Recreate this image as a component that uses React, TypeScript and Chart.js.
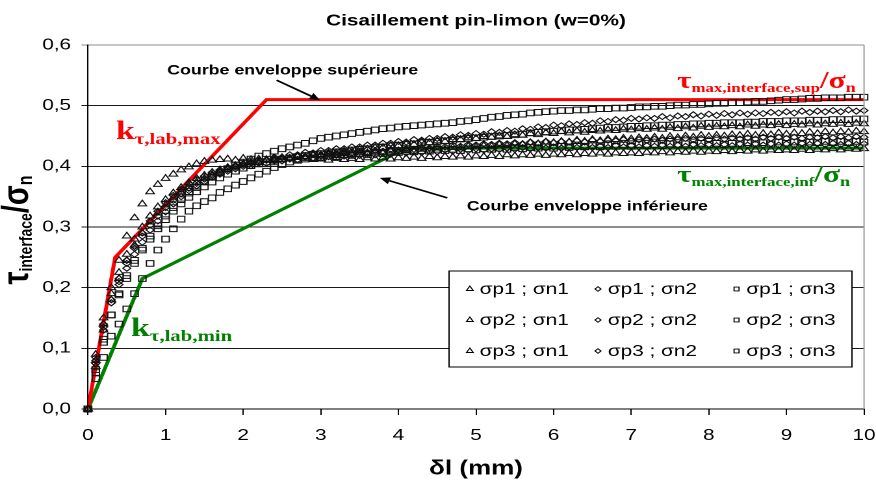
import React, { useEffect, useRef } from "react";
import { Chart, registerables } from "chart.js";

Chart.register(...registerables);

// ---------------- DATA ----------------
const TITLE = "Cisaillement pin-limon (w=0%)";
const X_TITLE = "δl (mm)";
const X_TICKS = [0, 1, 2, 3, 4, 5, 6, 7, 8, 9, 10];
const Y_TICKS = [0, 0.1, 0.2, 0.3, 0.4, 0.5, 0.6];

const DL = [
  0, 0.1, 0.2, 0.3, 0.4, 0.5, 0.6, 0.7, 0.8, 0.9,
  1, 1.1, 1.2, 1.3, 1.4, 1.5, 1.6, 1.7, 1.8, 1.9,
  2, 2.1, 2.2, 2.3, 2.4, 2.5, 2.6, 2.7, 2.8, 2.9,
  3, 3.1, 3.2, 3.3, 3.4, 3.5, 3.6, 3.7, 3.8, 3.9,
  4, 4.1, 4.2, 4.3, 4.4, 4.5, 4.6, 4.7, 4.8, 4.9,
  5, 5.1, 5.2, 5.3, 5.4, 5.5, 5.6, 5.7, 5.8, 5.9,
  6, 6.1, 6.2, 6.3, 6.4, 6.5, 6.6, 6.7, 6.8, 6.9,
  7, 7.1, 7.2, 7.3, 7.4, 7.5, 7.6, 7.7, 7.8, 7.9,
  8, 8.1, 8.2, 8.3, 8.4, 8.5, 8.6, 8.7, 8.8, 8.9,
  9, 9.1, 9.2, 9.3, 9.4, 9.5, 9.6, 9.7, 9.8, 9.9,
  10,
];

const Y_P1N1 = [
  0, .090, .150, .200, .245, .285, .315, .338, .358, .370,
  .380, .387, .394, .399, .404, .408, .410, .411, .412, .410,
  .413, .411, .412, .410, .413, .411, .412, .410, .413, .411,
  .412, .410, .413, .411, .413, .411, .414, .412, .414, .412,
  .414, .413, .415, .413, .416, .414, .416, .415, .417, .415,
  .417, .416, .418, .416, .419, .417, .419, .418, .420, .418,
  .420, .419, .421, .419, .421, .420, .422, .420, .422, .421,
  .422, .421, .423, .422, .424, .422, .424, .423, .425, .423,
  .425, .424, .426, .424, .426, .425, .427, .425, .427, .426,
  .427, .426, .428, .426, .428, .427, .429, .427, .429, .428,
  .429,
];
const Y_P1N2 = [
  0, .075, .130, .175, .210, .240, .265, .285, .303, .318,
  .332, .344, .355, .364, .372, .379, .385, .390, .395, .399,
  .403, .405, .410, .410, .415, .415, .419, .419, .423, .422,
  .426, .426, .429, .429, .432, .432, .435, .435, .438, .438,
  .441, .440, .444, .443, .446, .446, .449, .448, .452, .451,
  .454, .453, .457, .456, .459, .458, .462, .461, .465, .464,
  .468, .467, .470, .469, .472, .471, .475, .474, .477, .476,
  .479, .478, .480, .479, .482, .480, .483, .482, .485, .483,
  .486, .484, .487, .485, .488, .486, .488, .487, .489, .488,
  .490, .488, .491, .489, .491, .490, .492, .490, .493, .491,
  .492,
];
const Y_P1N3 = [
  0, .060, .110, .155, .190, .220, .245, .265, .285, .302,
  .318, .332, .345, .356, .365, .374, .382, .389, .396, .402,
  .407, .412, .417, .421, .425, .429, .432, .435, .438, .442,
  .446, .448, .450, .452, .454, .456, .458, .460, .462, .463,
  .465, .466, .467, .468, .469, .470, .471, .472, .474, .475,
  .477, .479, .481, .482, .484, .485, .486, .488, .489, .490,
  .491, .492, .492, .493, .493, .494, .495, .495, .496, .496,
  .497, .498, .498, .499, .499, .500, .501, .501, .502, .502,
  .503, .504, .504, .505, .505, .506, .507, .507, .508, .509,
  .510, .510, .511, .512, .512, .513, .513, .513, .514, .514,
  .514,
];
const Y_P2N1 = [
  0, .080, .140, .190, .225, .255, .280, .300, .318, .333,
  .345, .356, .365, .373, .380, .385, .390, .394, .398, .401,
  .404, .407, .407, .411, .411, .414, .413, .416, .415, .418,
  .417, .419, .418, .421, .419, .422, .421, .423, .422, .425,
  .424, .426, .425, .428, .427, .430, .428, .431, .430, .433,
  .432, .434, .433, .436, .434, .437, .436, .439, .437, .440,
  .439, .441, .440, .443, .441, .444, .442, .445, .444, .446,
  .445, .447, .446, .448, .446, .449, .447, .450, .448, .451,
  .449, .451, .450, .452, .451, .453, .451, .454, .452, .455,
  .453, .455, .454, .456, .454, .457, .455, .457, .456, .458,
  .457,
];
const Y_P2N2 = [
  0, .085, .140, .180, .215, .245, .268, .290, .310, .326,
  .340, .352, .362, .371, .378, .384, .390, .394, .398, .401,
  .404, .407, .407, .411, .411, .414, .413, .417, .416, .419,
  .418, .421, .420, .423, .422, .425, .423, .426, .425, .428,
  .427, .429, .428, .431, .430, .433, .432, .435, .433, .436,
  .435, .437, .436, .438, .437, .439, .437, .440, .438, .441,
  .439, .441, .440, .442, .440, .443, .441, .443, .442, .444,
  .442, .444, .443, .445, .443, .445, .444, .446, .444, .446,
  .444, .447, .445, .447, .445, .447, .445, .448, .446, .448,
  .446, .448, .446, .448, .447, .449, .447, .449, .447, .449,
  .448,
];
const Y_P2N3 = [
  0, .065, .115, .155, .188, .215, .240, .262, .280, .297,
  .312, .326, .338, .349, .358, .366, .374, .381, .387, .392,
  .397, .401, .404, .407, .410, .412, .414, .416, .418, .420,
  .421, .422, .424, .425, .427, .428, .429, .431, .432, .434,
  .435, .436, .437, .439, .440, .441, .442, .443, .445, .446,
  .447, .448, .449, .450, .451, .452, .453, .455, .456, .457,
  .458, .459, .460, .460, .461, .462, .463, .464, .464, .465,
  .466, .466, .467, .467, .468, .468, .469, .469, .470, .470,
  .471, .471, .472, .472, .472, .473, .473, .474, .474, .474,
  .475, .475, .475, .476, .476, .476, .477, .477, .477, .478,
  .478,
];
const Y_P3N1 = [
  0, .070, .130, .180, .215, .245, .270, .290, .308, .323,
  .336, .348, .358, .367, .374, .380, .386, .391, .395, .399,
  .402, .406, .406, .410, .410, .414, .413, .417, .416, .420,
  .419, .422, .422, .425, .425, .428, .428, .431, .431, .434,
  .434, .437, .436, .440, .439, .442, .441, .444, .444, .447,
  .446, .449, .448, .450, .449, .452, .451, .454, .452, .455,
  .454, .457, .455, .458, .456, .459, .458, .460, .459, .461,
  .460, .462, .461, .463, .461, .464, .462, .465, .463, .466,
  .464, .466, .465, .467, .465, .468, .466, .468, .467, .469,
  .467, .469, .468, .470, .468, .470, .469, .471, .469, .471,
  .470,
];
const Y_P3N2 = [
  0, .080, .135, .175, .205, .232, .255, .275, .295, .310,
  .325, .338, .350, .360, .368, .375, .382, .387, .392, .396,
  .400, .401, .405, .405, .409, .409, .412, .411, .415, .414,
  .417, .416, .418, .417, .419, .418, .421, .419, .422, .420,
  .423, .422, .424, .423, .425, .424, .427, .425, .428, .426,
  .429, .427, .429, .428, .430, .428, .431, .429, .431, .430,
  .432, .430, .432, .431, .433, .431, .433, .431, .434, .432,
  .434, .432, .434, .433, .435, .433, .435, .433, .436, .434,
  .436, .434, .436, .434, .437, .435, .437, .435, .437, .435,
  .437, .435, .438, .436, .438, .436, .438, .436, .438, .436,
  .437,
];
const Y_P3N3 = [
  0, .050, .085, .120, .140, .165, .190, .215, .240, .262,
  .280, .297, .313, .326, .335, .342, .348, .357, .363, .369,
  .375, .381, .387, .392, .398, .403, .407, .410, .412, .414,
  .415, .417, .416, .419, .418, .421, .419, .422, .421, .424,
  .423, .425, .424, .426, .425, .428, .426, .428, .426, .429,
  .427, .429, .428, .430, .428, .431, .429, .431, .430, .432,
  .430, .433, .431, .433, .432, .434, .432, .435, .433, .435,
  .433, .436, .434, .436, .434, .437, .435, .437, .435, .438,
  .436, .438, .436, .438, .437, .439, .437, .439, .437, .440,
  .438, .440, .438, .440, .439, .441, .439, .441, .439, .441,
  .440,
];

const SERIES_LABELS = [
  "σp1 ; σn1", "σp1 ; σn2", "σp1 ; σn3",
  "σp2 ; σn1", "σp2 ; σn2", "σp2 ; σn3",
  "σp3 ; σn1", "σp3 ; σn2", "σp3 ; σn3",
];
const SERIES_VALUES = [Y_P1N1, Y_P1N2, Y_P1N3, Y_P2N1, Y_P2N2, Y_P2N3, Y_P3N1, Y_P3N2, Y_P3N3];
const SERIES_STYLES = ["triangle", "rectRot", "rect", "triangle", "rectRot", "rect", "triangle", "rectRot", "rect"];

// envelope curves
const SUP_X = [0, 0.35, 2.3, 10];
const SUP_Y = [0, 0.25, 0.51, 0.51];
const INF_X = [0, 0.7, 4.1, 10];
const INF_Y = [0, 0.215, 0.43, 0.43];

// ---------------- STYLE ----------------
const SANS = '"Liberation Sans", Arial, Helvetica, sans-serif';
const SERIF = '"Liberation Serif", "Times New Roman", Times, serif';
const RED = "#ff0000";
const GREEN = "#008000";
const LOGICAL_W = 674; // drawn narrower then stretched to 876px like the reference
const H = 480;
const MARKER_R: Record<string, number> = { triangle: 3.8, rectRot: 3.0, rect: 4.0 };
const LEGEND_R: Record<string, number> = { triangle: 3.0, rectRot: 2.3, rect: 2.7 };

type Seg = { t: string; font: string; dy?: number };

function richWidth(ctx: CanvasRenderingContext2D, segs: Seg[]) {
  let w = 0;
  for (const s of segs) {
    ctx.font = s.font;
    w += ctx.measureText(s.t).width;
  }
  return w;
}
function drawRich(ctx: CanvasRenderingContext2D, x: number, y: number, segs: Seg[], color: string) {
  ctx.fillStyle = color;
  ctx.textAlign = "left";
  ctx.textBaseline = "alphabetic";
  let cx = x;
  for (const s of segs) {
    ctx.font = s.font;
    ctx.fillText(s.t, cx, y + (s.dy || 0));
    cx += ctx.measureText(s.t).width;
  }
}
function drawMarker(ctx: CanvasRenderingContext2D, style: string, x: number, y: number, r: number) {
  ctx.beginPath();
  if (style === "triangle") {
    const h = r * Math.sin(Math.PI / 3);
    ctx.moveTo(x, y - r);
    ctx.lineTo(x + h, y + r / 2);
    ctx.lineTo(x - h, y + r / 2);
    ctx.closePath();
  } else if (style === "rectRot") {
    ctx.moveTo(x - r, y);
    ctx.lineTo(x, y - r);
    ctx.lineTo(x + r, y);
    ctx.lineTo(x, y + r);
    ctx.closePath();
  } else {
    const s = r * Math.SQRT1_2;
    ctx.rect(x - s, y - s, 2 * s, 2 * s);
  }
  ctx.stroke();
}
function drawArrow(ctx: CanvasRenderingContext2D, x1: number, y1: number, x2: number, y2: number) {
  const a = Math.atan2(y2 - y1, x2 - x1);
  const L = 8;
  const W = 3.6;
  const bx = x2 - Math.cos(a) * L;
  const by = y2 - Math.sin(a) * L;
  ctx.strokeStyle = "#000";
  ctx.fillStyle = "#000";
  ctx.lineWidth = 1.7;
  ctx.beginPath();
  ctx.moveTo(x1, y1);
  ctx.lineTo(bx, by);
  ctx.stroke();
  ctx.beginPath();
  ctx.moveTo(x2, y2);
  ctx.lineTo(bx - Math.sin(a) * W, by + Math.cos(a) * W);
  ctx.lineTo(bx + Math.sin(a) * W, by - Math.cos(a) * W);
  ctx.closePath();
  ctx.fill();
}

const decorPlugin = {
  id: "decor",
  afterDraw(chart: any) {
    const { ctx, chartArea: ca, scales } = chart;
    const X = (v: number) => scales.x.getPixelForValue(v);
    const Y = (v: number) => scales.y.getPixelForValue(v);
    ctx.save();

    // right border of plot area
    ctx.strokeStyle = "#9a9a9a";
    ctx.lineWidth = 1;
    ctx.beginPath();
    ctx.moveTo(ca.right, ca.top);
    ctx.lineTo(ca.right, ca.bottom);
    ctx.stroke();

    // title
    ctx.fillStyle = "#000";
    ctx.font = `bold 16px ${SANS}`;
    ctx.textAlign = "center";
    ctx.textBaseline = "middle";
    ctx.fillText(TITLE, (ca.left + ca.right) / 2, 21);

    // x axis title
    ctx.font = `bold 20px ${SANS}`;
    ctx.fillText(X_TITLE, (ca.left + ca.right) / 2, 469);

    // y axis title (rotated)
    const ySegs: Seg[] = [
      { t: "τ", font: `bold 29px ${SANS}` },
      { t: "interface", font: `bold 14px ${SANS}`, dy: 3 },
      { t: "/", font: `bold 29px ${SANS}` },
      { t: "σ", font: `bold 29px ${SANS}` },
      { t: "n", font: `bold 16px ${SANS}`, dy: 3 },
    ];
    const yw = richWidth(ctx, ySegs);
    ctx.save();
    ctx.translate(21.5, 230);
    ctx.rotate(-Math.PI / 2);
    drawRich(ctx, -yw / 2, 0, ySegs, "#000");
    ctx.restore();

    // annotations
    ctx.font = `bold 13.7px ${SANS}`;
    ctx.fillStyle = "#000";
    ctx.textAlign = "left";
    ctx.textBaseline = "alphabetic";
    ctx.fillText("Courbe enveloppe supérieure", X(1.02), Y(0.551));
    ctx.fillText("Courbe enveloppe inférieure", X(4.88), Y(0.327));
    drawArrow(ctx, X(2.43), Y(0.542), X(2.99), Y(0.509));
    drawArrow(ctx, X(4.63), Y(0.348), X(3.76), Y(0.381));

    drawRich(ctx, X(0.36), Y(0.445), [
      { t: "k", font: `bold 26px ${SERIF}` },
      { t: "τ,lab,max", font: `bold 16px ${SERIF}`, dy: 5 },
    ], RED);
    drawRich(ctx, X(0.554), Y(0.12), [
      { t: "k", font: `bold 26px ${SERIF}` },
      { t: "τ,lab,min", font: `bold 16px ${SERIF}`, dy: 5 },
    ], GREEN);
    drawRich(ctx, X(7.59), Y(0.529), [
      { t: "τ", font: `bold 24px ${SERIF}` },
      { t: "max,interface,sup", font: `bold 13px ${SERIF}`, dy: 4 },
      { t: "/", font: `bold 24px ${SERIF}` },
      { t: "σ", font: `bold 24px ${SERIF}` },
      { t: "n", font: `bold 14px ${SERIF}`, dy: 4 },
    ], RED);
    drawRich(ctx, X(7.59), Y(0.374), [
      { t: "τ", font: `bold 24px ${SERIF}` },
      { t: "max,interface,inf", font: `bold 13px ${SERIF}`, dy: 4 },
      { t: "/", font: `bold 24px ${SERIF}` },
      { t: "σ", font: `bold 24px ${SERIF}` },
      { t: "n", font: `bold 14px ${SERIF}`, dy: 4 },
    ], GREEN);

    // legend box
    const boxR = ca.right - 9.3;
    const boxL = boxR - 310;
    const boxT = ca.bottom - 138;
    const boxB = ca.bottom - 42;
    ctx.fillStyle = "#fff";
    ctx.fillRect(boxL, boxT, boxR - boxL, boxB - boxT);
    ctx.strokeStyle = "#000";
    ctx.lineWidth = 1;
    ctx.strokeRect(boxL, boxT, boxR - boxL, boxB - boxT);
    const colX = [16, 114.6, 221.2];
    const rowY = [18, 49, 80];
    ctx.font = `16px ${SANS}`;
    ctx.textBaseline = "middle";
    ctx.textAlign = "left";
    SERIES_LABELS.forEach((lab, i) => {
      const r = Math.floor(i / 3);
      const c = i % 3;
      const mx = boxL + colX[c];
      const my = boxT + rowY[r];
      ctx.strokeStyle = "#000";
      ctx.lineWidth = 0.9;
      drawMarker(ctx, SERIES_STYLES[i], mx, my, LEGEND_R[SERIES_STYLES[i]]);
      ctx.fillStyle = "#000";
      ctx.fillText(lab, mx + 7.5, my + 0.5);
    });

    ctx.restore();
  },
};

export default function App() {
  const ref = useRef<HTMLCanvasElement>(null);

  useEffect(() => {
    const canvas = ref.current;
    if (!canvas) return;

    const scatterSets = SERIES_LABELS.map((label, i) => ({
      type: "scatter" as const,
      label,
      data: DL.map((x, j) => ({ x, y: SERIES_VALUES[i][j] })),
      pointStyle: SERIES_STYLES[i],
      pointRadius: MARKER_R[SERIES_STYLES[i]],
      pointBorderColor: "#111",
      pointBackgroundColor: "rgba(0,0,0,0)",
      pointBorderWidth: 1,
      borderColor: "#111",
      backgroundColor: "rgba(0,0,0,0)",
      showLine: false,
      clip: 6,
      order: 1,
    }));
    const lineSets = [
      { x: SUP_X, y: SUP_Y, c: RED, label: "Courbe enveloppe supérieure" },
      { x: INF_X, y: INF_Y, c: GREEN, label: "Courbe enveloppe inférieure" },
    ].map((d) => ({
      type: "line" as const,
      label: d.label,
      data: d.x.map((x, j) => ({ x, y: d.y[j] })),
      borderColor: d.c,
      backgroundColor: d.c,
      borderWidth: 3,
      pointRadius: 0,
      showLine: true,
      fill: false,
      tension: 0,
      order: 10,
    }));

    const chart = new Chart(canvas, {
      type: "scatter",
      data: { datasets: [...scatterSets, ...lineSets] as any },
      options: {
        responsive: false,
        animation: false,
        devicePixelRatio: 2,
        layout: { padding: { top: 45, right: 9.2, left: 0, bottom: 0 } },
        plugins: {
          legend: { display: false },
          tooltip: { enabled: false },
          title: { display: false },
        },
        scales: {
          x: {
            type: "linear",
            min: 0,
            max: 10,
            afterBuildTicks: (s: any) => {
              s.ticks = X_TICKS.map((v) => ({ value: v }));
            },
            afterFit: (s: any) => {
              s.height = 71;
              s.paddingLeft = 0;
              s.paddingRight = 0;
            },
            ticks: {
              color: "#000",
              font: { family: SANS, size: 16 },
              padding: 11,
              maxRotation: 0,
              autoSkip: false,
              callback: (v: any) => String(v),
            },
            grid: { drawOnChartArea: false, drawTicks: true, tickLength: 6, color: "#000" },
            border: { color: "#000", width: 1 },
          },
          y: {
            type: "linear",
            min: 0,
            max: 0.6,
            afterBuildTicks: (s: any) => {
              s.ticks = Y_TICKS.map((v) => ({ value: v }));
            },
            afterFit: (s: any) => {
              s.width = 67.7;
              s.paddingTop = 0;
              s.paddingBottom = 0;
            },
            ticks: {
              color: "#000",
              font: { family: SANS, size: 16 },
              padding: 8,
              callback: (v: any) => Number(v).toFixed(1).replace(".", ","),
            },
            grid: {
              drawTicks: true,
              tickLength: 5,
              lineWidth: 1,
              color: (c: any) =>
                c.tick && Math.abs(c.tick.value - 0.6) < 1e-6 ? "#8c8c8c" : "#1a1a1a",
            },
            border: { color: "#000", width: 1 },
          },
        },
      } as any,
      plugins: [decorPlugin],
    });

    return () => chart.destroy();
  }, []);

  return (
    <div style={{ position: "fixed", left: 0, top: 0, width: 876, height: H, background: "#fff" }}>
      <canvas
        ref={ref}
        width={LOGICAL_W}
        height={H}
        style={{ width: "876px", height: `${H}px`, display: "block" }}
      />
    </div>
  );
}
